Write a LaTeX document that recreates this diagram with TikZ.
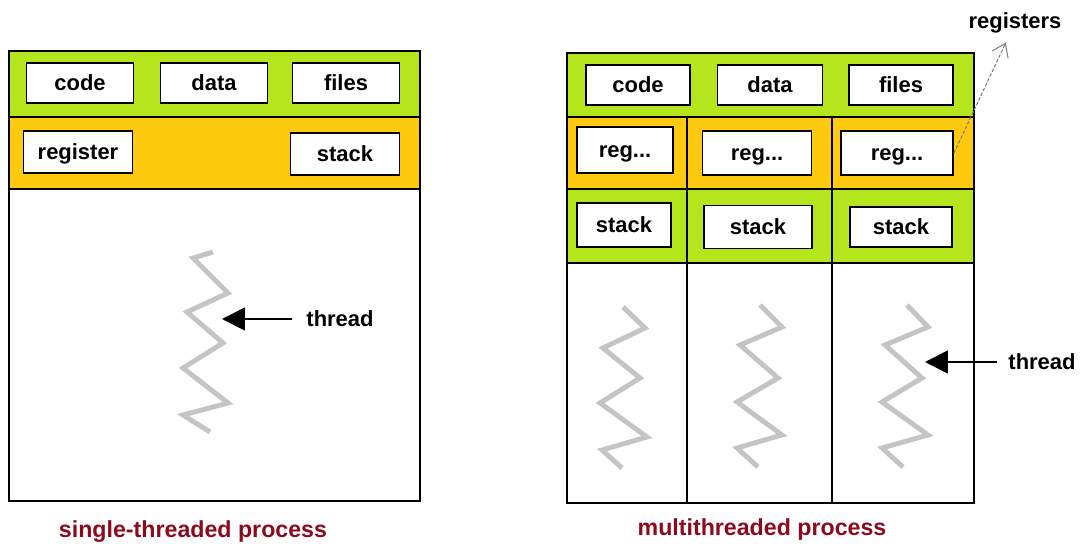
\documentclass[tikz,border=0pt]{standalone}
\usepackage{fontspec}
\setmainfont{Liberation Sans}
\usetikzlibrary{arrows.meta, positioning}
\definecolor{lime}{RGB}{181, 230, 29}
\definecolor{gold}{RGB}{255, 201, 14}
\definecolor{maroon}{RGB}{140, 10, 30}
\definecolor{zigzag}{RGB}{196, 196, 196}

\begin{document}
\begin{tikzpicture}[
            x=0.02cm, y=-0.02cm,
            every node/.style={font=\fontsize{12.5}{15}\selectfont\bfseries},
            itembox/.style={draw=black, line width=1.1pt, fill=white, inner sep=0pt, text height=9pt, text depth=0pt},
            band/.style={draw=black, line width=0.9pt},
            threadline/.style={draw=zigzag, line width=2.8pt},
            threadlabel/.style={inner xsep=0.28cm},
            caption/.style={text=maroon, font=\fontsize{13.2}{15}\selectfont\bfseries},
            arrow/.style={-{Triangle[length=13pt, width=13pt]}, line width=1.1pt, black},
            regarrow/.style={-{Straight Barb[length=7pt, width=10pt]}, gray, line width=0.6pt, dash pattern=on 2pt off 1pt}
        ]
            \useasboundingbox (0,0) rectangle (1089,544);

            % Single-threaded process
            \draw[band, fill=lime] (9,51) rectangle (420,117);
            \draw[band, fill=gold] (9,117) rectangle (420,189);
            \draw[band] (9,189) rectangle (420,501);

            \node[itembox, minimum width=2.14cm, minimum height=0.8cm] (lcode) at (80,83) {code};
            \node[itembox, minimum width=2.14cm, minimum height=0.8cm] (ldata) at (214,83) {data};
            \node[itembox, minimum width=2.14cm, minimum height=0.8cm] (lfiles) at (346,83) {files};
            \node[itembox, minimum width=2.18cm, minimum height=0.84cm] (lregister) at (78,152) {register};
            \node[itembox, minimum width=2.18cm, minimum height=0.84cm] (lstack) at (345,154) {stack};

            \draw[threadline] (213,252) -- (193,258) -- (228,293) -- (187,312) -- (223,343)
                -- (183,368) -- (228,403) -- (183,415) -- (210,432);

            \coordinate (ltip) at (222,319);
            \node[threadlabel] (lthread) at (340,319) {thread};
            \draw[arrow] (lthread) -- (ltip);

            \node[caption] (lcaption) at (193,532) {single-threaded process};

            % Multithreaded process
            \draw[band, fill=lime] (567,53) rectangle (974,117);
            \foreach \l/\r in {567/687, 687/832, 832/974} {
                \draw[band, fill=gold] (\l,117) rectangle (\r,189);
                \draw[band, fill=lime] (\l,189) rectangle (\r,263);
                \draw[band] (\l,263) rectangle (\r,503);
            }

            \node[itembox, minimum width=2.08cm, minimum height=0.8cm] (mcode) at (638,85) {code};
            \node[itembox, minimum width=2.1cm, minimum height=0.8cm] (mdata) at (770,85) {data};
            \node[itembox, minimum width=2.08cm, minimum height=0.8cm] (mfiles) at (901,85) {files};

            \node[itembox, minimum width=1.92cm, minimum height=0.92cm] (mreg1) at (625,150) {reg...};
            \node[itembox, minimum width=2.18cm, minimum height=0.88cm] (mreg2) at (757,153) {reg...};
            \node[itembox, minimum width=2.24cm, minimum height=0.88cm] (mreg3) at (897,153) {reg...};

            \node[itembox, minimum width=1.88cm, minimum height=0.88cm] (mstack1) at (624,225) {stack};
            \node[itembox, minimum width=2.16cm, minimum height=0.86cm] (mstack2) at (758,227) {stack};
            \node[itembox, minimum width=2.04cm, minimum height=0.8cm] (mstack3) at (901,227) {stack};

            \draw[threadline] (623,307) -- (645,328) -- (603,348) -- (640,378) -- (600,403)
                -- (647,437) -- (602,450) -- (622,468);
            \draw[threadline] (760,305) -- (782,327) -- (740,345) -- (778,378) -- (737,402)
                -- (782,435) -- (737,448) -- (758,467);
            \draw[threadline] (907,305) -- (928,327) -- (885,345) -- (922,378) -- (882,402)
                -- (928,435) -- (882,448) -- (903,467);

            \coordinate (mtip) at (925,362);
            \node[threadlabel, inner xsep=0.22cm] (mthread) at (1042,362) {thread};
            \draw[arrow] (mthread) -- (mtip);

            \node[inner sep=0.18cm] (mregisters) at (1015,23) {registers};
            \draw[regarrow] (mreg3.east) -- (mregisters);

            \node[caption] (mcaption) at (762,530) {multithreaded process};

        \end{tikzpicture}
\end{document}
